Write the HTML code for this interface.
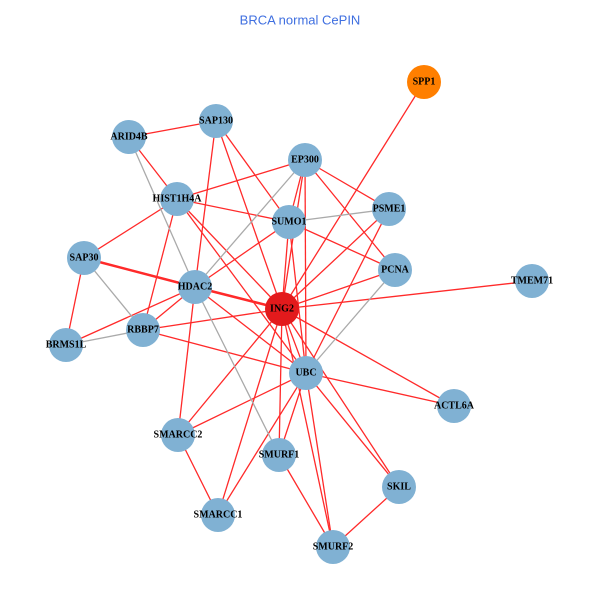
<!DOCTYPE html>
<html><head><style>
body{margin:0;background:#fff;}
svg text{font-family:"Liberation Serif",serif;font-weight:bold;font-size:10px;text-anchor:middle;dominant-baseline:central;}
</style></head><body>
<svg width="600" height="600" viewBox="0 0 600 600" xmlns="http://www.w3.org/2000/svg">
<text x="300" y="20" style="font-family:'Liberation Sans',sans-serif;font-weight:normal;font-size:13px;fill:#3f6fe0">BRCA normal CePIN</text>
<g stroke="#ff2a2a" stroke-width="1.3">
<line x1="129" y1="137" x2="216" y2="121"/>
<line x1="129" y1="137" x2="177" y2="199"/>
<line x1="216" y1="121" x2="195" y2="287"/>
<line x1="216" y1="121" x2="282" y2="309"/>
<line x1="216" y1="121" x2="289" y2="222"/>
<line x1="305" y1="160" x2="177" y2="199"/>
<line x1="305" y1="160" x2="289" y2="222"/>
<line x1="305" y1="160" x2="282" y2="309"/>
<line x1="305" y1="160" x2="389" y2="209"/>
<line x1="305" y1="160" x2="395" y2="270"/>
<line x1="305" y1="160" x2="306" y2="373"/>
<line x1="177" y1="199" x2="289" y2="222"/>
<line x1="177" y1="199" x2="282" y2="309"/>
<line x1="177" y1="199" x2="306" y2="373"/>
<line x1="177" y1="199" x2="84" y2="258"/>
<line x1="177" y1="199" x2="143" y2="330"/>
<line x1="84" y1="258" x2="195" y2="287" stroke-width="2.5"/>
<line x1="84" y1="258" x2="282" y2="309"/>
<line x1="84" y1="258" x2="66" y2="345"/>
<line x1="289" y1="222" x2="195" y2="287"/>
<line x1="289" y1="222" x2="282" y2="309"/>
<line x1="289" y1="222" x2="306" y2="373"/>
<line x1="289" y1="222" x2="395" y2="270"/>
<line x1="195" y1="287" x2="282" y2="309" stroke-width="2.5"/>
<line x1="195" y1="287" x2="66" y2="345"/>
<line x1="195" y1="287" x2="143" y2="330"/>
<line x1="195" y1="287" x2="306" y2="373"/>
<line x1="195" y1="287" x2="178" y2="435"/>
<line x1="143" y1="330" x2="282" y2="309"/>
<line x1="143" y1="330" x2="306" y2="373"/>
<line x1="282" y1="309" x2="424" y2="82"/>
<line x1="282" y1="309" x2="532" y2="281"/>
<line x1="282" y1="309" x2="395" y2="270"/>
<line x1="282" y1="309" x2="389" y2="209"/>
<line x1="282" y1="309" x2="306" y2="373"/>
<line x1="282" y1="309" x2="178" y2="435"/>
<line x1="282" y1="309" x2="218" y2="515"/>
<line x1="282" y1="309" x2="279" y2="455"/>
<line x1="282" y1="309" x2="399" y2="487"/>
<line x1="282" y1="309" x2="333" y2="547"/>
<line x1="282" y1="309" x2="454" y2="406"/>
<line x1="306" y1="373" x2="454" y2="406"/>
<line x1="306" y1="373" x2="178" y2="435"/>
<line x1="306" y1="373" x2="218" y2="515"/>
<line x1="306" y1="373" x2="279" y2="455"/>
<line x1="306" y1="373" x2="399" y2="487"/>
<line x1="306" y1="373" x2="333" y2="547"/>
<line x1="306" y1="373" x2="389" y2="209"/>
<line x1="178" y1="435" x2="218" y2="515"/>
<line x1="279" y1="455" x2="333" y2="547"/>
<line x1="399" y1="487" x2="333" y2="547"/>
</g>
<g stroke="#aaaaaa" stroke-width="1.3">
<line x1="129" y1="137" x2="195" y2="287"/>
<line x1="84" y1="258" x2="143" y2="330"/>
<line x1="66" y1="345" x2="143" y2="330"/>
<line x1="195" y1="287" x2="305" y2="160"/>
<line x1="195" y1="287" x2="279" y2="455"/>
<line x1="289" y1="222" x2="389" y2="209"/>
<line x1="306" y1="373" x2="395" y2="270"/>
</g>
<g fill="#80b1d3">
<circle cx="216" cy="121" r="17"/><circle cx="129" cy="137" r="17"/><circle cx="305" cy="160" r="17"/>
<circle cx="177" cy="199" r="17"/><circle cx="289" cy="222" r="17"/><circle cx="389" cy="209" r="17"/>
<circle cx="84" cy="258" r="17"/><circle cx="395" cy="270" r="17"/><circle cx="532" cy="281" r="17"/>
<circle cx="195" cy="287" r="17"/><circle cx="143" cy="330" r="17"/><circle cx="66" cy="345" r="17"/>
<circle cx="306" cy="373" r="17"/><circle cx="454" cy="406" r="17"/><circle cx="178" cy="435" r="17"/>
<circle cx="279" cy="455" r="17"/><circle cx="399" cy="487" r="17"/><circle cx="218" cy="515" r="17"/>
<circle cx="333" cy="547" r="17"/>
</g>
<circle cx="424" cy="82" r="17" fill="#ff7f00"/>
<circle cx="282" cy="309" r="17" fill="#e31a1c"/>
<text x="424" y="82">SPP1</text><text x="216" y="121">SAP130</text><text x="129" y="137">ARID4B</text>
<text x="305" y="160">EP300</text><text x="177" y="199">HIST1H4A</text><text x="289" y="222">SUMO1</text>
<text x="389" y="209">PSME1</text><text x="84" y="258">SAP30</text><text x="395" y="270">PCNA</text>
<text x="532" y="281">TMEM71</text><text x="195" y="287">HDAC2</text><text x="282" y="309">ING2</text>
<text x="143" y="330">RBBP7</text><text x="66" y="345">BRMS1L</text><text x="306" y="373">UBC</text>
<text x="454" y="406">ACTL6A</text><text x="178" y="435">SMARCC2</text><text x="279" y="455">SMURF1</text>
<text x="399" y="487">SKIL</text><text x="218" y="515">SMARCC1</text><text x="333" y="547">SMURF2</text>
</svg>
</body></html>
